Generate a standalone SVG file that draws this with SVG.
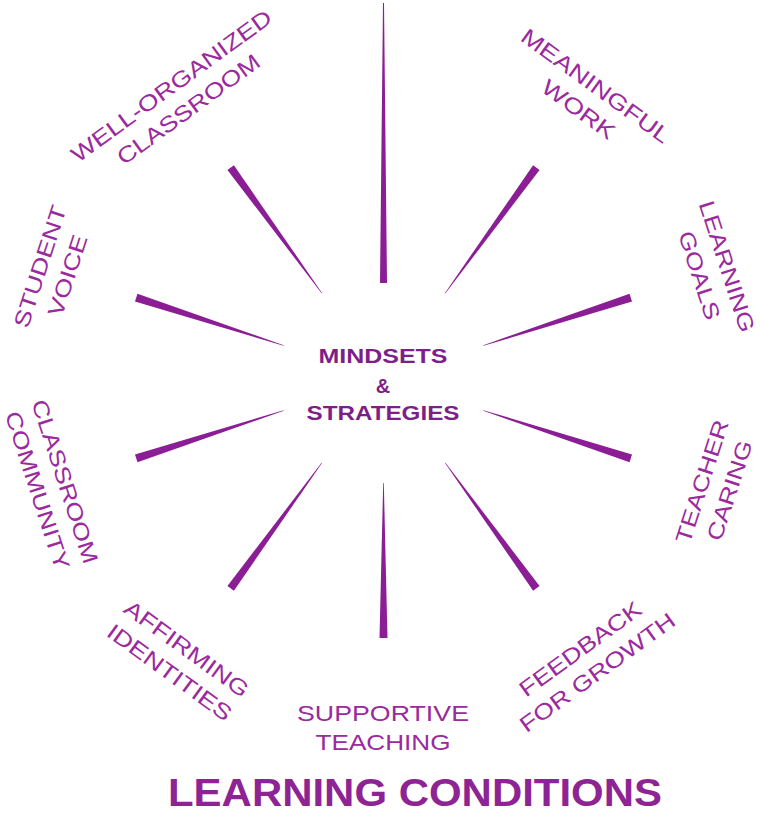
<svg xmlns="http://www.w3.org/2000/svg" width="761" height="813" viewBox="0 0 761 813">
<style>
.spoke{fill:#8B1D95;}
.lbl{font-family:"Liberation Sans","DejaVu Sans",sans-serif;font-size:22px;fill:#9A2A9E;text-anchor:middle;}
.ctr{font-family:"Liberation Sans","DejaVu Sans",sans-serif;font-size:20px;font-weight:bold;fill:#7E1F88;text-anchor:middle;}
.ttl{font-family:"Liberation Sans","DejaVu Sans",sans-serif;font-size:38px;font-weight:bold;fill:#8E2493;}
</style>
<defs>
<path id="sp" d="M -0.3,-105 L 0.3,-105 L 4,-260 L -4,-260 Z"/>
</defs>
<rect width="761" height="813" fill="#ffffff"/>
<g id="connectors" class="spoke" transform="translate(383.5,378)">
<path d="M -3.5,-95 L 3.5,-95 L 0.5,-375 L -0.5,-375 Z"/>
<use href="#sp" transform="rotate(36)"/>
<use href="#sp" transform="rotate(72)"/>
<use href="#sp" transform="rotate(108)"/>
<use href="#sp" transform="rotate(144)"/>
<use href="#sp" transform="rotate(180)"/>
<use href="#sp" transform="rotate(216)"/>
<use href="#sp" transform="rotate(252)"/>
<use href="#sp" transform="rotate(288)"/>
<use href="#sp" transform="rotate(324)"/>
</g>
<g id="center">
<text class="ctr" x="383" y="363" textLength="129" lengthAdjust="spacingAndGlyphs">MINDSETS</text>
<text class="ctr" x="383" y="393" font-size="21">&amp;</text>
<text class="ctr" x="383" y="420" textLength="153" lengthAdjust="spacingAndGlyphs">STRATEGIES</text>
</g>
<g id="meaningful-work" class="lbl" transform="translate(588,96.5) rotate(36)">
<text x="0" y="-5.5" textLength="178" lengthAdjust="spacingAndGlyphs">MEANINGFUL</text>
<text x="0" y="23.5" textLength="85" lengthAdjust="spacingAndGlyphs">WORK</text>
</g>
<g id="learning-goals" class="lbl" transform="translate(714.5,270.5) rotate(72)">
<text x="0" y="-5.5" textLength="137" lengthAdjust="spacingAndGlyphs">LEARNING</text>
<text x="0" y="23.5" textLength="92" lengthAdjust="spacingAndGlyphs">GOALS</text>
</g>
<g id="teacher-caring" class="lbl" transform="translate(714.5,485.5) rotate(-72)">
<text x="0" y="-5.5" textLength="128" lengthAdjust="spacingAndGlyphs">TEACHER</text>
<text x="0" y="23.5" textLength="104" lengthAdjust="spacingAndGlyphs">CARING</text>
</g>
<g id="feedback-for-growth" class="lbl" transform="translate(588,659.5) rotate(-36)">
<text x="0" y="-5.5" textLength="145" lengthAdjust="spacingAndGlyphs">FEEDBACK</text>
<text x="0" y="23.5" textLength="186" lengthAdjust="spacingAndGlyphs">FOR GROWTH</text>
</g>
<g id="supportive-teaching" class="lbl" transform="translate(383,726.5)">
<text x="0" y="-5.5" textLength="172" lengthAdjust="spacingAndGlyphs">SUPPORTIVE</text>
<text x="0" y="23.5" textLength="135" lengthAdjust="spacingAndGlyphs">TEACHING</text>
</g>
<g id="affirming-identities" class="lbl" transform="translate(179,659.5) rotate(36)">
<text x="0" y="-5.5" textLength="148" lengthAdjust="spacingAndGlyphs">AFFIRMING</text>
<text x="0" y="23.5" textLength="148" lengthAdjust="spacingAndGlyphs">IDENTITIES</text>
</g>
<g id="classroom-community" class="lbl" transform="translate(52.5,485.5) rotate(72)">
<text x="0" y="-5.5" textLength="171" lengthAdjust="spacingAndGlyphs">CLASSROOM</text>
<text x="0" y="23.5" textLength="165" lengthAdjust="spacingAndGlyphs">COMMUNITY</text>
</g>
<g id="student-voice" class="lbl" transform="translate(52.5,270.5) rotate(-72)">
<text x="0" y="-5.5" textLength="127" lengthAdjust="spacingAndGlyphs">STUDENT</text>
<text x="0" y="23.5" textLength="84" lengthAdjust="spacingAndGlyphs">VOICE</text>
</g>
<g id="well-organized-classroom" class="lbl" transform="translate(179,96.5) rotate(-36)">
<text x="0" y="-5.5" textLength="242" lengthAdjust="spacingAndGlyphs">WELL-ORGANIZED</text>
<text x="0" y="23.5" textLength="171" lengthAdjust="spacingAndGlyphs">CLASSROOM</text>
</g>
<g id="title">
<text class="ttl" x="168" y="806" textLength="494" lengthAdjust="spacingAndGlyphs">LEARNING CONDITIONS</text>
</g>
</svg>
